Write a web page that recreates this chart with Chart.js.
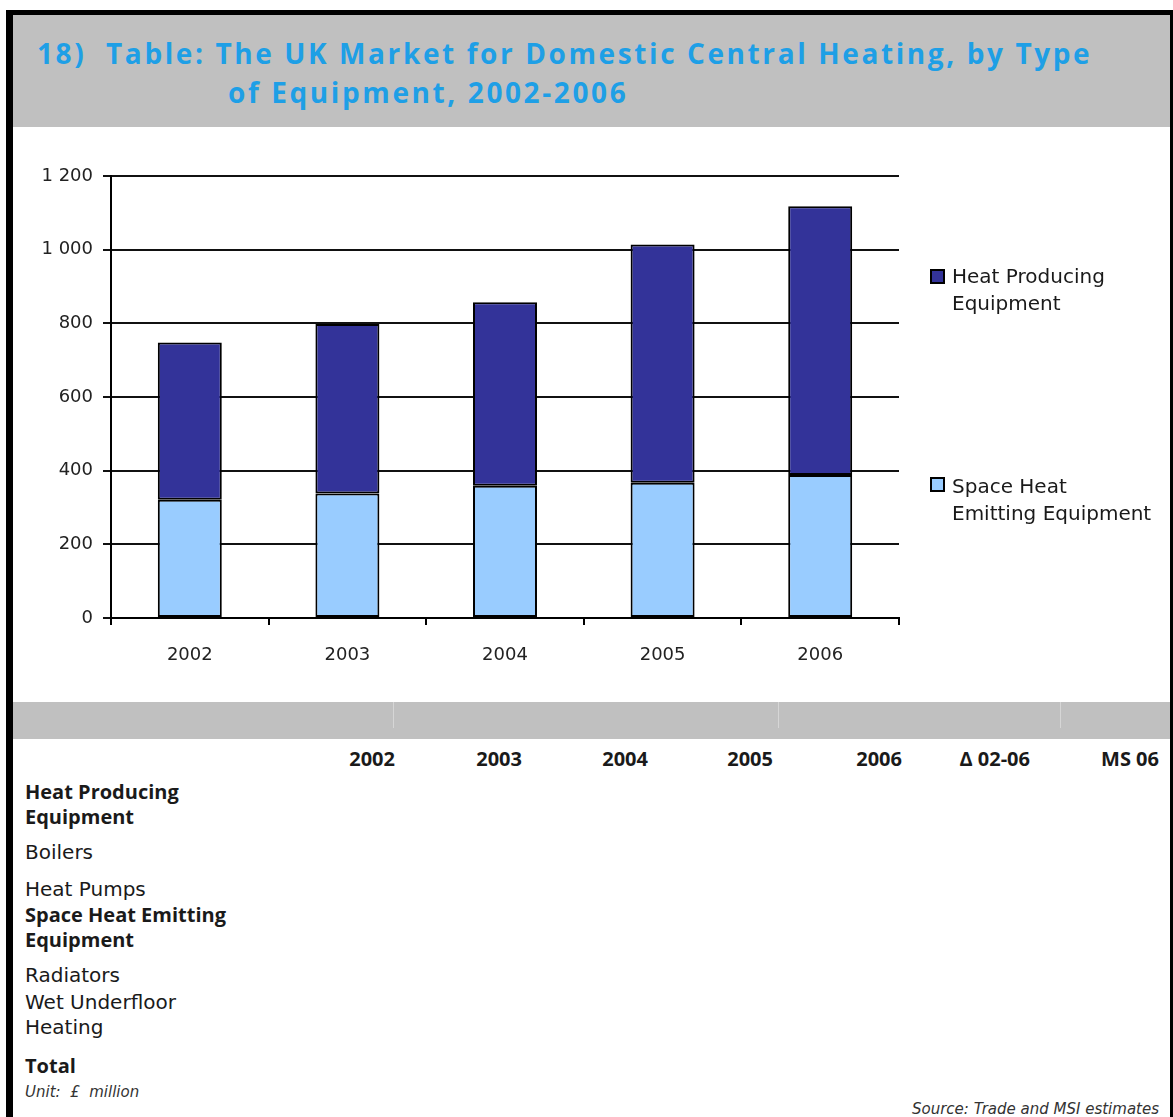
<!DOCTYPE html>
<html>
<head>
<meta charset="utf-8">
<title>UK Market for Domestic Central Heating</title>
<script src="https://cdn.jsdelivr.net/npm/chart.js@4.4.1/dist/chart.umd.min.js"></script>
<style>
  body { margin: 0; background: #fff; }
  #page { position: relative; width: 1173px; height: 1117px; overflow: hidden; background: #fff;
          font-family: "DejaVu Sans", sans-serif; color: #1a1a1a; }
  .abs { position: absolute; white-space: nowrap; }
  .blk { position: absolute; background: #000; }
  .band { position: absolute; background: #c0c0c0; }
  .title { color: #1e9fe6; font-family: "Open Sans", sans-serif; font-weight: bold;
           font-size: 28px; line-height: 39px; letter-spacing: 2.6px; white-space: pre; }
  .leg { font-size: 20px; line-height: 27px; color: #1a1a1a; }
  .legbox { position: absolute; width: 11px; height: 11px; border: 2px solid #000; }
  .row { font-size: 20px; line-height: 25px; width: 215px; white-space: normal; }
  .bold { font-family: "Open Sans", sans-serif; font-weight: bold; }
  .hdr { font-family: "Open Sans", sans-serif; font-weight: bold; font-size: 20px; line-height: 25px; text-align: right; }
  .note { font-style: italic; font-size: 15px; line-height: 20px; color: #333; white-space: pre; }
  canvas { position: absolute; left: 0; top: 130px; }
</style>
</head>
<body>
<div id="page">
  <div class="band" style="left:13px;top:15px;width:1157px;height:112px"></div>
  <div class="blk" style="left:6px;top:10px;width:1167px;height:5px"></div>
  <div class="blk" style="left:6px;top:10px;width:7px;height:1107px"></div>
  <div class="blk" style="left:1170px;top:10px;width:3px;height:1107px"></div>

  <div class="abs title" id="title1" style="left:37px;top:34px"></div>
  <div class="abs title" id="title2" style="left:228px;top:73px"></div>

  <canvas id="grafica" width="1173" height="560"></canvas>
  <div id="legend"></div>

  <div class="band" style="left:13px;top:702px;width:1157px;height:37px"></div>
  <div class="abs" style="left:393px;top:702px;width:1px;height:26px;background:#d6d6d6"></div>
  <div class="abs" style="left:778px;top:702px;width:1px;height:26px;background:#d6d6d6"></div>
  <div class="abs" style="left:1060px;top:702px;width:1px;height:26px;background:#d6d6d6"></div>

  <div id="table"></div>
</div>

<script>
const titleLines = ['18)  Table: The UK Market for Domestic Central Heating, by Type', 'of Equipment, 2002-2006'];

const years = ['2002', '2003', '2004', '2005', '2006'];
const heatProducing = [427, 460, 498, 647, 730];
const spaceHeat = [321, 338, 359, 367, 388];
const seriesNames = ['Heat Producing Equipment', 'Space Heat Emitting Equipment'];
const yTicks = [0, 200, 400, 600, 800, 1000, 1200];

const tableCols = ['2002', '2003', '2004', '2005', '2006', 'Δ 02-06', 'MS 06'];
const tableRows = ['Heat Producing Equipment', 'Boilers', 'Heat Pumps', 'Space Heat Emitting Equipment',
                   'Radiators', 'Wet Underfloor Heating', 'Total'];
const sectionRows = ['Heat Producing Equipment', 'Space Heat Emitting Equipment', 'Total'];
const unitNote = 'Unit:  £  million';
const sourceNote = 'Source: Trade and MSI estimates';

const darkBlue = '#333399';
const lightBlue = '#99ccff';

document.getElementById('title1').textContent = titleLines[0];
document.getElementById('title2').textContent = titleLines[1];

// legend on the right, top entry is the upper stack
const legendItems = [
  { text: seriesNames[0], color: darkBlue, boxTop: 269, top: 263 },
  { text: seriesNames[1], color: lightBlue, boxTop: 477, top: 473 }
];
const legendEl = document.getElementById('legend');
legendItems.forEach(it => {
  const box = document.createElement('div');
  box.className = 'legbox';
  box.style.left = '930px';
  box.style.top = it.boxTop + 'px';
  box.style.background = it.color;
  legendEl.appendChild(box);
  const txt = document.createElement('div');
  txt.className = 'abs leg';
  txt.style.left = '952px';
  txt.style.top = it.top + 'px';
  const words = it.text.split(' ');
  txt.innerHTML = words.slice(0, 2).join(' ') + '<br>' + words.slice(2).join(' ');
  legendEl.appendChild(txt);
});

// table skeleton
const tableEl = document.getElementById('table');
const colRight = [395, 522, 648, 773, 902, 1030, 1159];
tableCols.forEach((c, i) => {
  const d = document.createElement('div');
  d.className = 'abs hdr';
  d.style.left = (colRight[i] - 150) + 'px';
  d.style.width = '150px';
  d.style.top = '746px';
  d.textContent = c;
  tableEl.appendChild(d);
});
const rowTops = [779, 840, 877, 902, 963, 990, 1053];
tableRows.forEach((r, i) => {
  const d = document.createElement('div');
  d.className = 'abs row' + (sectionRows.includes(r) ? ' bold' : '');
  d.style.left = '25px';
  d.style.top = rowTops[i] + 'px';
  d.textContent = r;
  tableEl.appendChild(d);
});
const unit = document.createElement('div');
unit.className = 'abs note';
unit.style.left = '25px';
unit.style.top = '1082px';
unit.textContent = unitNote;
tableEl.appendChild(unit);
const src = document.createElement('div');
src.className = 'abs note';
src.style.left = '859px';
src.style.width = '300px';
src.style.textAlign = 'right';
src.style.top = '1099px';
src.textContent = sourceNote;
tableEl.appendChild(src);

const fmt = v => String(v).replace(/\B(?=(\d{3})+(?!\d))/g, ' ');

const ctx = document.getElementById('grafica').getContext('2d');
window.myChart = new Chart(ctx, {
  type: 'bar',
  data: {
    labels: years,
    datasets: [
      { label: seriesNames[1], data: spaceHeat, backgroundColor: lightBlue, borderColor: '#000',
        borderWidth: 2, borderSkipped: false },
      { label: seriesNames[0], data: heatProducing, backgroundColor: darkBlue, borderColor: '#000',
        borderWidth: 2, borderSkipped: false }
    ]
  },
  options: {
    responsive: false,
    devicePixelRatio: 1,
    animation: false,
    layout: { padding: { top: 46, right: 274, left: 0, bottom: 0 } },
    datasets: { bar: { categoryPercentage: 1, barPercentage: 0.406 } },
    plugins: { legend: { display: false }, tooltip: { enabled: false } },
    scales: {
      x: {
        stacked: true,
        afterFit: s => { s.height = 72; },
        border: { display: true, color: '#000', width: 2 },
        grid: { offset: true, drawOnChartArea: false, drawTicks: true, tickLength: 7, color: '#000', lineWidth: 2 },
        ticks: { color: '#222', padding: 20, font: { family: 'DejaVu Sans', size: 18 } }
      },
      y: {
        stacked: true,
        min: yTicks[0],
        max: yTicks[yTicks.length - 1],
        afterFit: s => { s.width = 111; },
        afterBuildTicks: s => { s.ticks = yTicks.map(v => ({ value: v })); },
        border: { display: true, color: '#000', width: 2 },
        grid: { color: '#111', lineWidth: 2, drawTicks: true, tickLength: 8 },
        ticks: { color: '#222', padding: 10, font: { family: 'DejaVu Sans', size: 18 }, callback: v => fmt(v) }
      }
    }
  }
});
</script>
</body>
</html>
